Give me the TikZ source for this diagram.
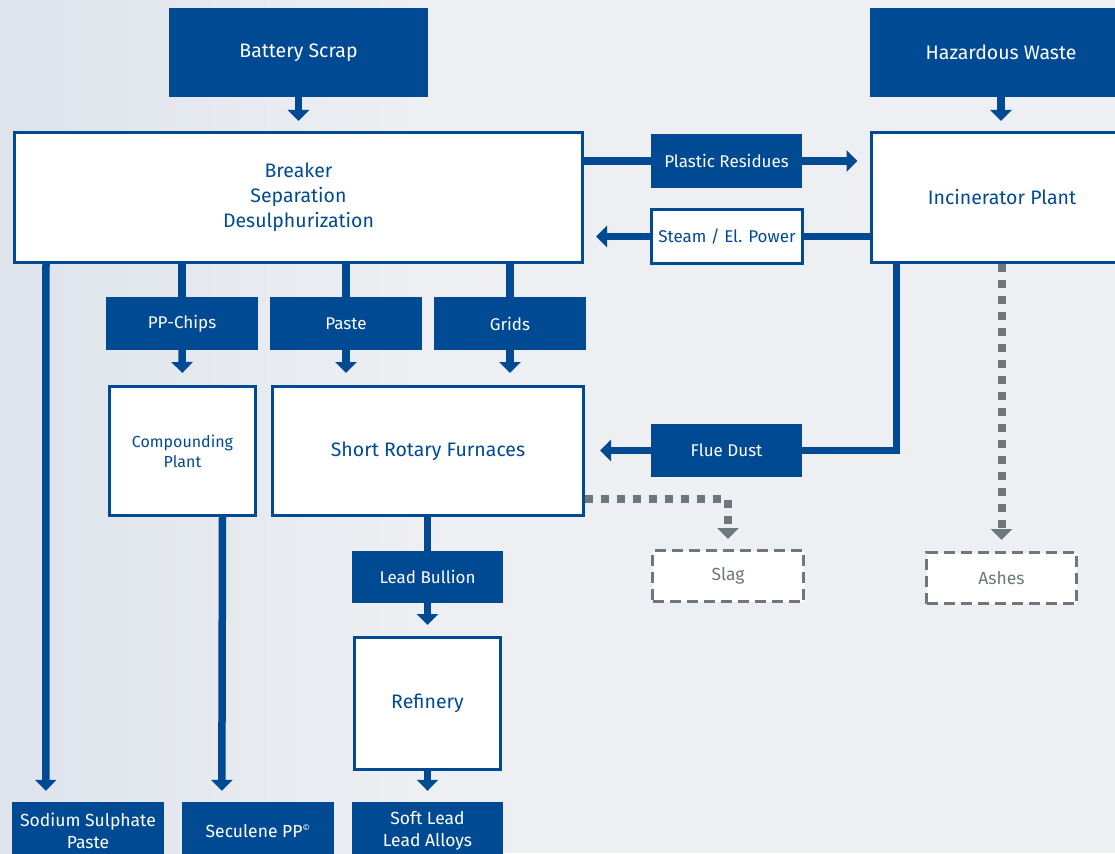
\documentclass[tikz,border=0pt]{standalone}
\usepackage{fontspec}
\setmainfont{Fira Sans}
\usetikzlibrary{arrows.meta}
\definecolor{plantblue}{RGB}{0,74,148}
\definecolor{slaggray}{RGB}{108,119,126}
\definecolor{paperbg}{RGB}{237,239,242}
\definecolor{paperleft}{RGB}{222,227,236}

\tikzset{
  solidbox/.style={fill=plantblue, text=white, inner sep=0pt, align=center, font=\fontsize{17}{20}\selectfont},
  openbox/.style={draw=plantblue, line width=3pt, fill=white, text=plantblue, inner sep=0pt, align=center, font=\fontsize{19.5}{25}\selectfont},
  wastebox/.style={draw=slaggray, line width=3pt, dash pattern=on 11pt off 6pt, fill=white, text=slaggray, inner sep=0pt, font=\fontsize{17.5}{20}\selectfont},
  flow/.style={draw=plantblue, line width=7.5pt},
  flowto/.style={flow, -{Triangle[width=21pt,length=11pt]}},
  dotflow/.style={draw=slaggray, line width=8pt, dash pattern=on 8pt off 8pt, -{Triangle[width=21pt,length=11pt]}}
}

\begin{document}
\begin{tikzpicture}[x=1pt, y=-1pt]
    \useasboundingbox (0,0) rectangle (1115,853);
    \clip (0,0) rectangle (1115,853);
    % Background
    \fill[paperbg] (0,0) rectangle (1115,853);
    \shade[left color=paperleft, right color=paperbg] (0,0) rectangle (420,853);

    % Inputs
    \node[solidbox, minimum width=259pt, minimum height=89pt, font=\fontsize{19.5}{22}\selectfont] (bs) at (298.5,52.5) {Battery Scrap};
    \node[solidbox, minimum width=262pt, minimum height=89pt, font=\fontsize{19.5}{22}\selectfont] (hw) at (1001,52.5) {Hazardous Waste};

    % Main plants
    \node[openbox, minimum width=568pt, minimum height=130pt] (br) at (298.5,197.5) {Breaker\\Separation\\Desulphurization};
    \node[openbox, minimum width=262pt, minimum height=130pt] (inc) at (1002,197.5) {Incinerator Plant};

    % Exchange between plants
    \node[solidbox, minimum width=151pt, minimum height=54pt] (pr) at (726.5,161) {Plastic Residues};
    \node[openbox, minimum width=151pt, minimum height=54pt, font=\fontsize{17}{20}\selectfont] (sep) at (727,236.5) {Steam / El. Power};

    % Fractions
    \node[solidbox, minimum width=152pt, minimum height=53pt] (pp) at (182,323.5) {PP-Chips};
    \node[solidbox, minimum width=152pt, minimum height=53pt] (pa) at (346,323.5) {Paste};
    \node[solidbox, minimum width=152pt, minimum height=53pt] (gr) at (510,323.5) {Grids};

    % Second stage
    \node[openbox, minimum width=146pt, minimum height=129pt, font=\fontsize{16}{20}\selectfont] (cp) at (182.5,451) {Compounding\\Plant};
    \node[openbox, minimum width=311pt, minimum height=129pt] (srf) at (428,451) {Short Rotary Furnaces};
    \node[solidbox, minimum width=151pt, minimum height=53pt] (fd) at (726.5,450.5) {Flue Dust};

    % Residues
    \node[wastebox, minimum width=151pt, minimum height=51pt] (slag) at (728,576) {Slag};
    \node[wastebox, minimum width=150pt, minimum height=51pt] (ash) at (1001.5,578) {Ashes};

    % Lead route
    \node[solidbox, minimum width=151pt, minimum height=52pt] (lb) at (427.5,577) {Lead Bullion};
    \node[openbox, minimum width=146pt, minimum height=132pt] (ref) at (427.5,703.5) {Refinery};

    % Products
    \node[solidbox, minimum width=152pt, minimum height=58pt, font=\fontsize{17.5}{22}\selectfont] (ssp) at (88,831) {Sodium Sulphate\\Paste};
    \node[solidbox, minimum width=152pt, minimum height=58pt, font=\fontsize{17.5}{22}\selectfont] (sec) at (258,831) {Seculene PP\textsuperscript{\small\textcopyright}};
    \node[solidbox, minimum width=151pt, minimum height=58pt, font=\fontsize{17.5}{22}\selectfont] (sl) at (427.5,831) {Soft Lead\\Lead Alloys};

    % Connectors
    \draw[flowto, shorten >=10pt] (bs.south) -- (br.north);
    \draw[flowto, shorten >=10pt] (hw.south) -- (hw.south |- inc.north);
    \draw[flow] (br.east |- pr.west) -- (pr.west);
    \draw[flowto, shorten >=12pt] (pr.east) -- (inc.west |- pr.east);
    \draw[flow] (inc.west |- sep.east) -- (sep.east);
    \draw[flowto, shorten >=12pt] (sep.west) -- (br.east |- sep.west);

    \draw[flow] (br.south -| pp.north) -- (pp.north);
    \draw[flow] (br.south -| pa.north) -- (pa.north);
    \draw[flow] (br.south -| gr.north) -- (gr.north);
    \draw[flowto, shorten >=12pt] (pp.south) -- (cp.north);
    \draw[flowto, shorten >=12pt] (pa.south) -- (pa.south |- srf.north);
    \draw[flowto, shorten >=12pt] (gr.south) -- (gr.south |- srf.north);

    \draw[flow] ([xshift=27pt]inc.south west) |- (fd.east);
    \draw[flowto, shorten >=15pt] (fd.west) -- (srf.east |- fd.west);

    \draw[dotflow, shorten >=10pt] ([yshift=18pt]srf.south east) -| (slag.north);
    \draw[dotflow, shorten >=11pt] (inc.south west -| ash.north) -- (ash.north);

    \draw[flow] (srf.south -| lb.north) -- (lb.north);
    \draw[flowto, shorten >=11pt] (lb.south) -- (ref.north);
    \draw[flowto, shorten >=11pt] (ref.south) -- (sl.north);

    \draw[flowto, shorten >=11pt] ([xshift=33pt]br.south west) -- ([xshift=34pt]ssp.north west);
    \draw[flowto, shorten >=11pt] ([xshift=40pt]cp.south) -- ([xshift=40pt]sec.north west);
\end{tikzpicture}
\end{document}
